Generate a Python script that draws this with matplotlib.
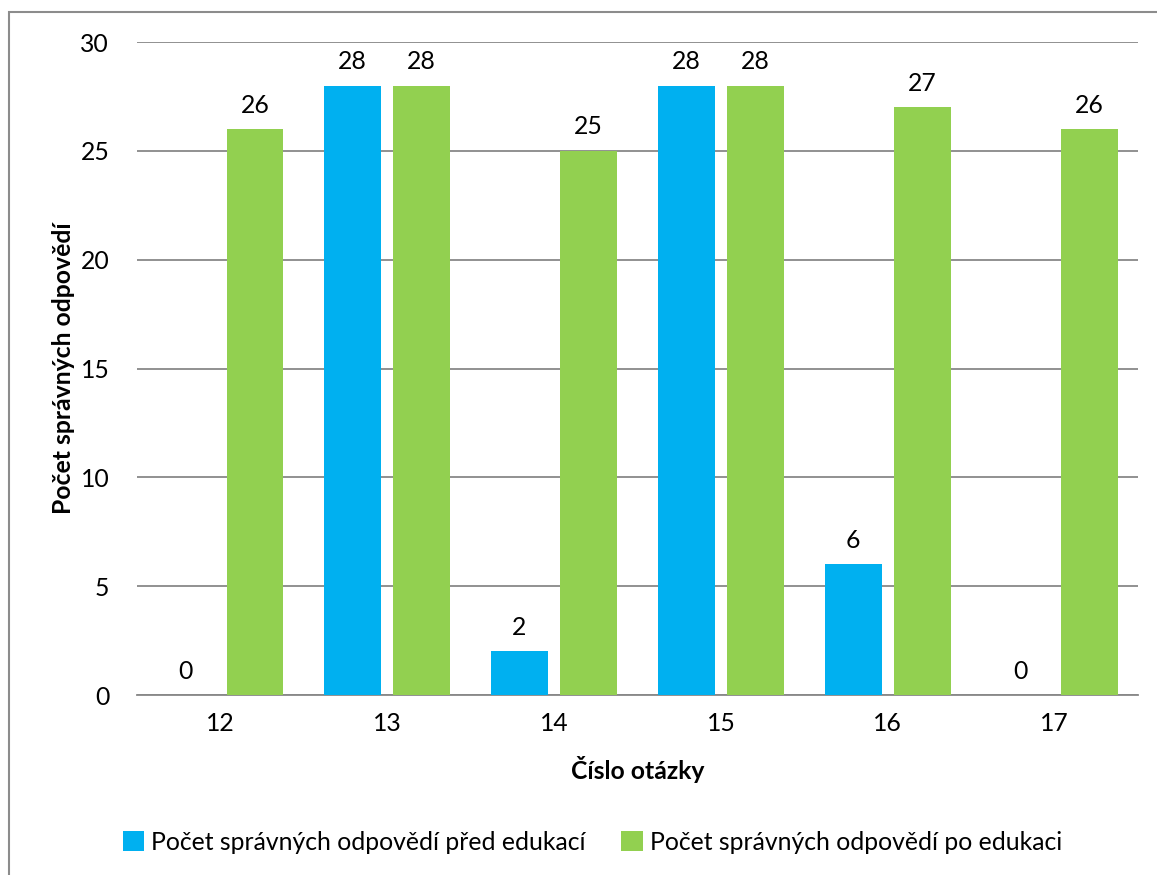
import matplotlib.pyplot as plt
import matplotlib.patches as mpatches
import numpy as np

plt.rcParams['font.family'] = ['Lato', 'DejaVu Sans']

otazky = ['12', '13', '14', '15', '16', '17']
pred_edukaci = [0, 28, 2, 28, 6, 0]
po_edukaci = [26, 28, 25, 28, 27, 26]

modra = '#00B0F0'
zelena = '#92D050'
fs = 17.8

fig = plt.figure(figsize=(11.57, 8.75), dpi=100)
ax = fig.add_axes([0.1184, 0.2057, 0.8652, 0.7463])

# chart border (only top and left edge fall inside the image)
fig.patches.append(mpatches.Rectangle((9 / 1157, -0.05), 1.2, 1 - 12 / 875 + 0.05,
                                      transform=fig.transFigure, fill=False,
                                      edgecolor='#8c8c8c', linewidth=1.5))

x = np.arange(len(otazky))
w = 0.34
off = 0.207
b1 = ax.bar(x - off, pred_edukaci, w, color=modra, label='Počet správných odpovědí před edukací', zorder=3)
b2 = ax.bar(x + off, po_edukaci, w, color=zelena, label='Počet správných odpovědí po edukaci', zorder=3)

for bars in (b1, b2):
    ax.bar_label(bars, padding=9, fontsize=fs)

ax.set_xlim(-0.5, 5.5)
ax.set_ylim(0, 30)
ax.set_yticks(range(0, 31, 5))
ax.set_xticks(x)
ax.set_xticklabels(otazky)
ax.grid(axis='y', color='#888888', linewidth=1.3, zorder=0)
for s in ['top', 'right', 'left']:
    ax.spines[s].set_visible(False)
ax.spines['bottom'].set_color('#888888')
ax.spines['bottom'].set_linewidth(1.3)
ax.tick_params(axis='both', length=0, labelsize=fs)
ax.tick_params(axis='y', pad=20)
ax.tick_params(axis='x', pad=12)

ax.set_xlabel('Číslo otázky', fontsize=fs, fontweight='bold', labelpad=15)
ax.set_ylabel('Počet správných odpovědí', fontsize=fs, fontweight='bold', labelpad=4)

fig.legend(loc='center', bbox_to_anchor=(0.512, 1 - 842 / 875), ncol=2, frameon=False,
           fontsize=fs, handlelength=0.85, handleheight=0.85, handletextpad=0.3,
           columnspacing=1.45)

fig.savefig('out.png', dpi=100)
